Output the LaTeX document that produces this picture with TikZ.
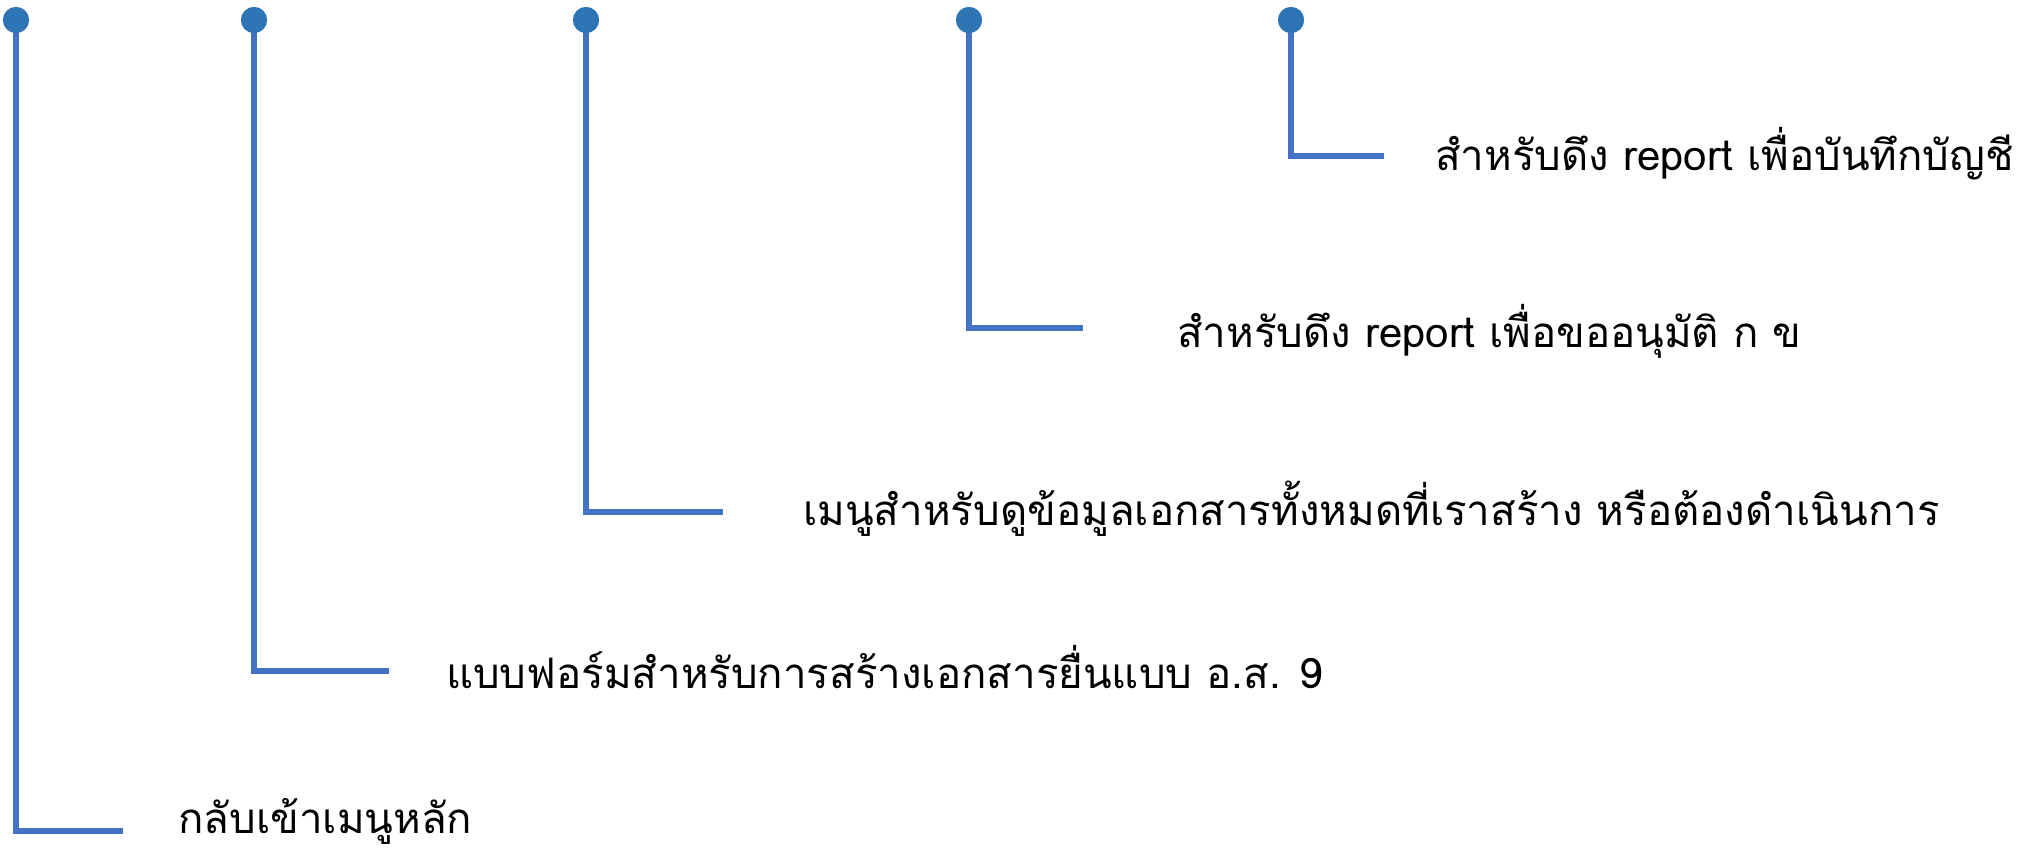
\documentclass[tikz,border=0pt]{standalone}
\usepackage{fontspec}
\newfontfamily\thaifont[Script=Thai]{Loma}
\definecolor{linec}{HTML}{4472C4}
\definecolor{dotc}{HTML}{2E75B6}
\begin{document}
\begin{tikzpicture}[x=1pt,y=-1pt,
  conn/.style={draw=linec,line width=6.5pt},
  pin/.style={circle,fill=dotc,inner sep=0pt,minimum size=26pt},
  lbl/.style={anchor=base west,inner sep=0pt,font=\thaifont\fontsize{42}{50}\selectfont}]
\useasboundingbox (0,0) rectangle (2032,849);
% dots
\node[pin] (d1) at (16,20) {};
\node[pin] (d2) at (254,20) {};
\node[pin] (d3) at (586,20) {};
\node[pin] (d4) at (969,20) {};
\node[pin] (d5) at (1291,20) {};
% line ends
\coordinate (e1) at (123,831);
\coordinate (e2) at (389,671);
\coordinate (e3) at (723,512);
\coordinate (e4) at (1083,328);
\coordinate (e5) at (1384,156);
% texts
\node[lbl] (t1) at (178,833) {กลับเข้าเมนูหลัก};
\node[lbl] (t2) at (446,688) {แบบฟอร์มสำหรับการสร้างเอกสารยื่นแบบ อ.ส. 9};
\node[lbl] (t3) at (803,525) {เมนูสำหรับดูข้อมูลเอกสารทั้งหมดที่เราสร้าง หรือต้องดำเนินการ};
\node[lbl] (t4) at (1177,347) {สำหรับดึง report เพื่อขออนุมัติ ก ข};
\node[lbl] (t5) at (1435,170) {สำหรับดึง report เพื่อบันทึกบัญชี};
% connectors
\draw[conn] (d1.center) |- (e1);
\draw[conn] (d2.center) |- (e2);
\draw[conn] (d3.center) |- (e3);
\draw[conn] (d4.center) |- (e4);
\draw[conn] (d5.center) |- (e5);
% dots on top of the connectors
\foreach \d in {d1,d2,d3,d4,d5} \fill[dotc] (\d) circle (13pt);
\end{tikzpicture}
\end{document}
